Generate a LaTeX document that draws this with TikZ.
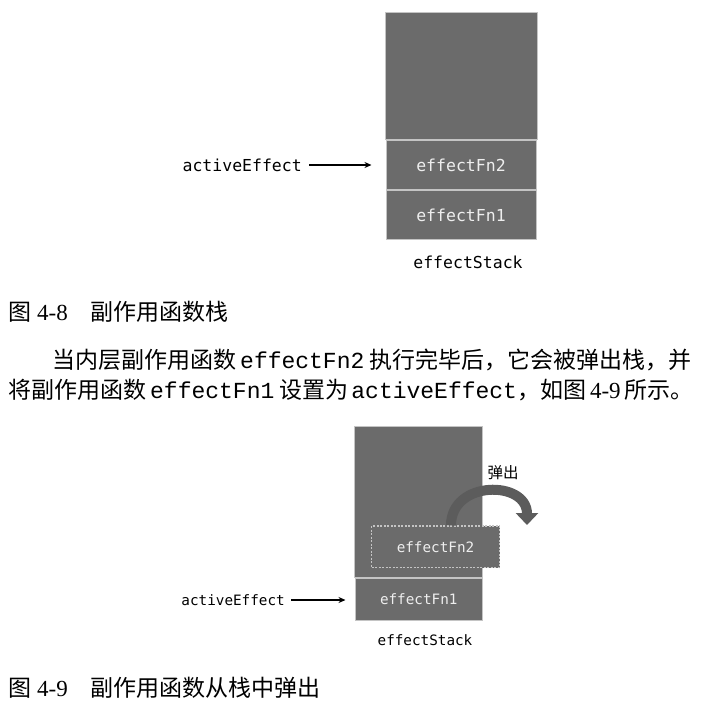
\documentclass[tikz,border=0pt]{standalone}
\usepackage{fontspec}
\setmainfont{Liberation Serif}
\setmonofont{Liberation Mono}
\newfontfamily\cjkfont{Noto Sans CJK SC}
\newfontfamily\diagfont{DejaVu Sans Mono}
\usetikzlibrary{arrows.meta}
\definecolor{stackgray}{HTML}{6B6B6B}
\definecolor{edgegray}{HTML}{C4C4C4}
\definecolor{popgray}{HTML}{5C5C5C}
\definecolor{labelwhite}{HTML}{EEEEEE}

\begin{document}
\begin{tikzpicture}[x = 1pt, y = -1pt,
        stackbox/.style = {draw = edgegray, fill = stackgray, line width = 1pt, inner sep = 0pt, text = labelwhite},
        bigfont/.style = {font = \diagfont\fontsize{16.5}{18}\selectfont},
        smallfont/.style = {font = \diagfont\fontsize{14.3}{16}\selectfont},
        pointer/.style = {-{Stealth[length = 7pt, width = 6pt]}, line width = 1.4pt},
        bodytext/.style = {anchor = west, inner sep = 0pt, font = \fontsize{23}{26}\selectfont}]
    \useasboundingbox (0, 0) rectangle (711, 713);
    % Figure 4-8
    \node[stackbox, minimum width = 152pt, minimum height = 127pt] (top1) at (461, 75.5) {};
    \node[stackbox, bigfont, minimum width = 150pt, minimum height = 49pt] (fn2a) at (461, 165) {effectFn2};
    \node[stackbox, bigfont, minimum width = 150pt, minimum height = 49pt] (fn1a) at (461, 215) {effectFn1};
    \node[bigfont] (stacka) at (468, 262) {effectStack};
    \node[bigfont, anchor = east, inner sep = 0pt] (activea) at (302, 165) {activeEffect};
    \draw[pointer, shorten < = 7pt, shorten > = 14pt]
        (activea.east) -- (activea.east -| fn2a.west);
    % Figure 4-9
    \node[stackbox, minimum width = 128.5pt, minimum height = 151pt] (top2) at (418.25, 501.5) {};
    \node[stackbox, smallfont, minimum width = 127.5pt, minimum height = 42pt] (fn1b) at (418.75, 599.5) {effectFn1};
    \node[stackbox, smallfont, dash pattern = on 2pt off 1.5pt, line width = 1.3pt,
        minimum width = 128pt, minimum height = 41.5pt] (fn2b) at (435.5, 546.75) {effectFn2};
    \coordinate (popend) at (527, 525);
    \draw[popgray, line width = 10pt, -{Triangle[length = 12pt, width = 22pt]}]
        ([xshift = 15.5pt] fn2b.north) .. controls (451, 480) and (527, 480) .. (popend);
    \node[font = \cjkfont\fontsize{15.5}{17}\selectfont, inner sep = 0pt] (poplabel) at (503, 473) {弹出};
    \node[smallfont] (stackb) at (425, 640) {effectStack};
    \node[smallfont, anchor = east, inner sep = 0pt] (activeb) at (285, 600) {activeEffect};
    \draw[pointer, shorten < = 6pt, shorten > = 9pt]
        (activeb.east) -- (activeb.east -| fn1b.west);
    % captions and text
    \node[bodytext] (cap1) at (8, 312)
        {{\cjkfont 图}\hspace{6pt}4-8\hspace{23pt}{\cjkfont 副作用函数栈}};
    \node[bodytext] (line1) at (52, 360)
        {{\cjkfont 当内层副作用函数}\hspace{4pt}{\ttfamily effectFn2}\hspace{5pt}{\cjkfont 执行完毕后，它会被弹出栈，并}};
    \node[bodytext] (line2) at (8, 390)
        {{\cjkfont 将副作用函数}\hspace{4pt}{\ttfamily effectFn1}\hspace{5pt}{\cjkfont 设置为}\hspace{3pt}{\ttfamily activeEffect}{\cjkfont ，如图}\hspace{4pt}4-9\hspace{4pt}{\cjkfont 所示。}};
    \node[bodytext] (cap2) at (8, 688)
        {{\cjkfont 图}\hspace{6pt}4-9\hspace{23pt}{\cjkfont 副作用函数从栈中弹出}};
\end{tikzpicture}
\end{document}
